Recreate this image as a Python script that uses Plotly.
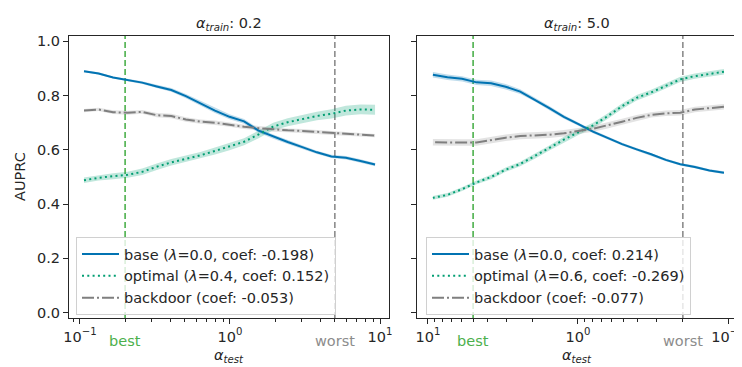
import math
import plotly.graph_objects as go

# ---------------- data ----------------
alpha_test = [0.1064, 0.1330, 0.1663, 0.2080, 0.2600, 0.3251, 0.4064, 0.5082, 0.6353, 0.7943,
              0.9931, 1.2417, 1.5524, 1.9409, 2.4266, 3.0339, 3.7931, 4.7424, 5.9293, 7.4131, 9.2683]

# panel 1 : alpha_train = 0.2
p1_base = [0.890, 0.882, 0.867, 0.857, 0.848, 0.834, 0.821, 0.798, 0.771, 0.745,
           0.722, 0.705, 0.671, 0.649, 0.629, 0.610, 0.591, 0.576, 0.571, 0.559, 0.546]
p1_opt = [0.488, 0.497, 0.503, 0.508, 0.519, 0.538, 0.554, 0.567, 0.580, 0.596,
          0.612, 0.630, 0.657, 0.686, 0.702, 0.714, 0.725, 0.733, 0.745, 0.749, 0.748]
p1_back = [0.745, 0.749, 0.739, 0.737, 0.740, 0.728, 0.725, 0.712, 0.704, 0.700,
           0.693, 0.685, 0.680, 0.675, 0.672, 0.670, 0.666, 0.662, 0.659, 0.656, 0.653]
p1_base_ci = [0.004, 0.004, 0.004, 0.005, 0.005, 0.006, 0.007, 0.008, 0.009, 0.009,
              0.009, 0.009, 0.008, 0.008, 0.007, 0.007, 0.006, 0.006, 0.006, 0.006, 0.006]
p1_opt_ci = [0.010, 0.010, 0.011, 0.011, 0.012, 0.012, 0.012, 0.012, 0.012, 0.013,
             0.013, 0.013, 0.014, 0.014, 0.015, 0.015, 0.016, 0.017, 0.018, 0.018, 0.018]
p1_back_ci = [0.006, 0.006, 0.007, 0.007, 0.007, 0.008, 0.008, 0.008, 0.008, 0.008,
              0.008, 0.008, 0.008, 0.008, 0.007, 0.007, 0.007, 0.007, 0.006, 0.006, 0.006]

# panel 2 : alpha_train = 5.0 (x axis reversed)
p2_base = [0.516, 0.524, 0.537, 0.547, 0.563, 0.584, 0.602, 0.621, 0.644, 0.667,
           0.695, 0.722, 0.754, 0.786, 0.815, 0.833, 0.846, 0.849, 0.862, 0.868, 0.877]
p2_opt = [0.888, 0.880, 0.872, 0.860, 0.836, 0.812, 0.792, 0.761, 0.724, 0.690,
          0.665, 0.638, 0.607, 0.576, 0.548, 0.527, 0.500, 0.480, 0.455, 0.434, 0.423]
p2_back = [0.759, 0.754, 0.749, 0.737, 0.735, 0.729, 0.718, 0.704, 0.690, 0.678,
           0.670, 0.661, 0.656, 0.653, 0.651, 0.645, 0.636, 0.627, 0.627, 0.628, 0.628]
p2_base_ci = [0.005, 0.005, 0.005, 0.005, 0.005, 0.005, 0.005, 0.005, 0.006, 0.006,
              0.006, 0.007, 0.008, 0.008, 0.009, 0.010, 0.010, 0.010, 0.010, 0.010, 0.010]
p2_opt_ci = [0.010, 0.010, 0.010, 0.010, 0.010, 0.010, 0.010, 0.010, 0.010, 0.010,
             0.010, 0.010, 0.009, 0.009, 0.008, 0.008, 0.008, 0.007, 0.007, 0.007, 0.007]
p2_back_ci = [0.010, 0.010, 0.010, 0.010, 0.010, 0.010, 0.011, 0.011, 0.011, 0.011,
              0.011, 0.012, 0.012, 0.012, 0.012, 0.012, 0.012, 0.012, 0.012, 0.012, 0.012]

titles = ["<i>α</i><sub><i>train</i></sub>: 0.2", "<i>α</i><sub><i>train</i></sub>: 5.0"]
best_alpha = [0.2, 5.0]
worst_alpha = [5.0, 0.2]
legend_names = [
    ["base (<i>λ</i>=0.0, coef: -0.198)", "optimal (<i>λ</i>=0.4, coef: 0.152)", "backdoor (coef: -0.053)"],
    ["base (<i>λ</i>=0.0, coef: 0.214)", "optimal (<i>λ</i>=0.6, coef: -0.269)", "backdoor (coef: -0.077)"],
]
y_ticks = [0.0, 0.2, 0.4, 0.6, 0.8, 1.0]
x_major = [0.1, 1, 10]
x_major_text = ["10<sup>−1</sup>", "10<sup>0</sup>", "10<sup>1</sup>"]
x_minor = [0.09, 0.2, 0.3, 0.4, 0.5, 0.6, 0.7, 0.8, 0.9, 2, 3, 4, 5, 6, 7, 8, 9]

# ---------------- style ----------------
FONT = "DejaVu Sans"
TXT = "#262626"
FS = 14.5
C_BASE = "#0173b2"
C_OPT = "#029e73"
C_BACK = "#7f7f7f"
C_BEST = "#4cb04c"
C_WORST = "#8c8c8c"

# page body adds an 8px margin, so the figure is 8px smaller than the window
W, H = 734, 359
ML, MR, MT, MB = 61, 5, 28, 49
REF_L, REF_B = 69, 318          # plot-area left / bottom in window pixels
plot_w = W - ML - MR
plot_h = H - MT - MB
dom1 = [0, 320 / plot_w]
dom2 = [348 / plot_w, 1]


def px(xw):
    return (xw - REF_L) / plot_w


def py(yw):
    return (REF_B - yw) / plot_h


fig = go.Figure()

panels = [
    (p1_base, p1_opt, p1_back, p1_base_ci, p1_opt_ci, p1_back_ci),
    (p2_base, p2_opt, p2_back, p2_base_ci, p2_opt_ci, p2_back_ci),
]
fills = ["rgba(1,115,178,0.25)", "rgba(2,158,115,0.25)", "rgba(127,127,127,0.22)"]
colors = [C_BASE, C_OPT, C_BACK]
dashes = ["solid", "2px,3.3px", "12px,3px,2px,3px"]

for pi, (b, o, k, bci, oci, kci) in enumerate(panels):
    xa = "x" if pi == 0 else "x2"
    ya = "y" if pi == 0 else "y2"
    lg = "legend" if pi == 0 else "legend2"
    for si, (vals, ci) in enumerate([(b, bci), (o, oci), (k, kci)]):
        up = [v + c for v, c in zip(vals, ci)]
        lo = [v - c for v, c in zip(vals, ci)]
        fig.add_trace(go.Scatter(x=alpha_test, y=up, mode="lines", line=dict(width=0),
                                 showlegend=False, hoverinfo="skip", xaxis=xa, yaxis=ya))
        fig.add_trace(go.Scatter(x=alpha_test, y=lo, mode="lines", line=dict(width=0),
                                 fill="tonexty", fillcolor=fills[si],
                                 showlegend=False, hoverinfo="skip", xaxis=xa, yaxis=ya))
    for si, vals in enumerate([b, o, k]):
        fig.add_trace(go.Scatter(x=alpha_test, y=vals, mode="lines",
                                 line=dict(color=colors[si], width=2, dash=dashes[si]),
                                 name=legend_names[pi][si], legend=lg,
                                 xaxis=xa, yaxis=ya))

axis_common = dict(
    showline=True, linecolor=TXT, linewidth=1.25, mirror=True,
    ticks="outside", ticklen=5, tickwidth=1.25, tickcolor=TXT,
    showgrid=False, zeroline=False, automargin=False,
    ticklabeloverflow="allow",
    tickfont=dict(family=FONT, size=FS, color=TXT),
)

xminor = dict(tickmode="array", tickvals=x_minor, ticks="outside", ticklen=3,
              tickwidth=1, tickcolor=TXT, showgrid=False)

legend_common = dict(xanchor="left", yanchor="top", traceorder="normal",
                     bgcolor="rgba(255,255,255,0.8)", bordercolor="#d0d0d0", borderwidth=1,
                     font=dict(family=FONT, size=FS, color=TXT), tracegroupgap=0,
                     itemwidth=37)

fig.update_layout(
    template="none",
    width=W, height=H,
    margin=dict(l=ML, r=MR, t=MT, b=MB, autoexpand=False),
    paper_bgcolor="white", plot_bgcolor="white",
    font=dict(family=FONT, size=FS, color=TXT),
    xaxis=dict(type="log", domain=dom1, range=[-1.073, 1.06], anchor="y",
               tickmode="array", tickvals=x_major, ticktext=x_major_text,
               minor=xminor, **axis_common),
    xaxis2=dict(type="log", domain=dom2, range=[1.073, -1.06], anchor="y2",
                tickmode="array", tickvals=x_major, ticktext=x_major_text,
                minor=xminor, **axis_common),
    yaxis=dict(domain=[0, 1], range=[-0.02, 1.02], anchor="x",
               tickmode="array", tickvals=y_ticks,
               ticktext=[f"{v:.1f}" for v in y_ticks], **axis_common),
    yaxis2=dict(domain=[0, 1], range=[-0.02, 1.02], anchor="x2",
                tickmode="array", tickvals=y_ticks, showticklabels=False,
                **axis_common),
    legend=dict(x=px(76), y=py(237), **legend_common),
    legend2=dict(x=px(426), y=py(237), **legend_common),
    showlegend=True,
)

shapes = []
annotations = []
for pi in range(2):
    xr = "x" if pi == 0 else "x2"
    dom = dom1 if pi == 0 else dom2
    shapes.append(dict(type="line", xref=xr, yref="paper",
                       x0=best_alpha[pi], x1=best_alpha[pi], y0=0, y1=1,
                       line=dict(color=C_BEST, width=1.6, dash="6px,3px"), layer="below"))
    shapes.append(dict(type="line", xref=xr, yref="paper",
                       x0=worst_alpha[pi], x1=worst_alpha[pi], y0=0, y1=1,
                       line=dict(color=C_WORST, width=1.6, dash="6px,3px"), layer="below"))
    annotations.append(dict(xref=xr, yref="paper", x=math.log10(best_alpha[pi]),
                            y=py(341), text="best", showarrow=False,
                            font=dict(family=FONT, size=FS, color=C_BEST),
                            xanchor="center", yanchor="middle"))
    annotations.append(dict(xref=xr, yref="paper", x=math.log10(worst_alpha[pi]),
                            y=py(341), text="worst", showarrow=False,
                            font=dict(family=FONT, size=FS, color=C_WORST),
                            xanchor="center", yanchor="middle"))
    annotations.append(dict(xref="paper", yref="paper", x=(dom[0] + dom[1]) / 2,
                            y=py(24), text=titles[pi], showarrow=False,
                            font=dict(family=FONT, size=FS, color=TXT),
                            xanchor="center", yanchor="middle"))
    annotations.append(dict(xref="paper", yref="paper", x=(dom[0] + dom[1]) / 2,
                            y=py(356), text="<i>α</i><sub><i>test</i></sub>",
                            showarrow=False,
                            font=dict(family=FONT, size=FS, color=TXT),
                            xanchor="center", yanchor="middle"))
annotations.append(dict(xref="paper", yref="paper", x=px(20), y=0.5,
                        text="AUPRC", textangle=-90, showarrow=False,
                        font=dict(family=FONT, size=FS, color=TXT),
                        xanchor="center", yanchor="middle"))
fig.update_layout(shapes=shapes, annotations=annotations)

fig.write_html("out.html")
